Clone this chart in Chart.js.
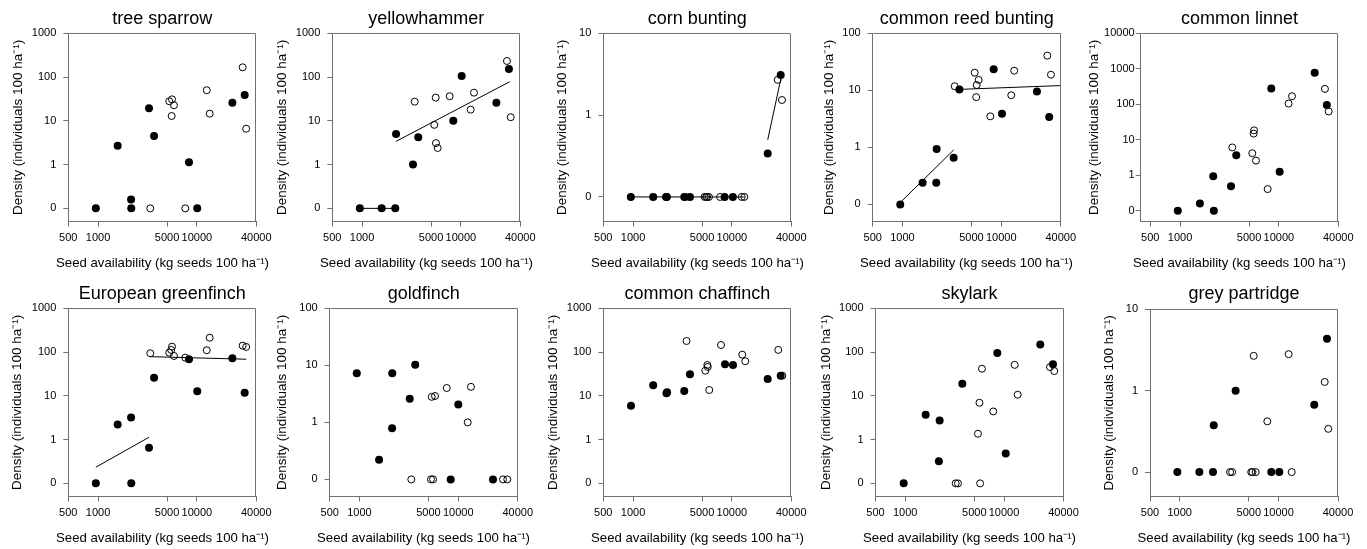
<!DOCTYPE html>
<html>
<head>
<meta charset="utf-8">
<script src="https://cdn.jsdelivr.net/npm/chart.js@4.4.1/dist/chart.umd.min.js"></script>
<style>
  html, body { margin: 0; padding: 0; background: #fff; overflow: hidden; }
  body { width: 1367px; height: 549px; position: relative; }
  canvas { position: absolute; }
</style>
</head>
<body>
<script>
// seed availability (kg seeds 100 ha-1), density (individuals 100 ha-1); 0 is drawn on its own row under 1
const xTicks = [500, 1000, 5000, 10000, 40000]

const treeSparrowFilled = [[950, 0], [1580, 2.7], [2160, 0.16], [2170, 0], [3280, 19.4], [3690, 4.5], [8330, 1.13], [10100, 0], [22900, 26], [30500, 39]]
const treeSparrowOpen = [[3380, 0], [5260, 28], [5560, 12.9], [5610, 31], [5870, 22.7], [7640, 0], [12600, 50], [13500, 14.6], [29100, 167], [31600, 6.6]]

const yellowhammerFilled = [[950, 0], [1580, 0], [2170, 0], [2210, 5.0], [3280, 1.0], [3710, 4.2], [8390, 10.1], [10200, 106], [22900, 26], [30700, 153]]
const yellowhammerOpen = [[3410, 27.4], [5390, 8.1], [5570, 33.9], [5600, 3.1], [5830, 2.4], [7710, 36.5], [12570, 18], [13590, 44], [29300, 233], [32000, 12.1]]
const yellowhammerLines = [[[950, 0], [2170, 0]], [[2210, 3.4], [31200, 78]]]

const cornBuntingFilled = [[950, 0], [1600, 0], [2160, 0], [2200, 0], [3300, 0], [3770, 0], [8450, 0], [10250, 0], [23070, 0.34], [31250, 3.1]]
const cornBuntingOpen = [[3400, 0], [5300, 0], [5500, 0], [5620, 0], [5870, 0], [7600, 0], [12600, 0], [13400, 0], [29100, 2.7], [32200, 1.53]]
const cornBuntingLines = [[[950, 0], [13400, 0]], [[23100, 0.5], [31600, 2.9]]]

const reedBuntingFilled = [[950, 0], [1600, 0.24], [2200, 0.24], [2220, 0.94], [3300, 0.66], [3770, 10.3], [8390, 23.4], [10180, 3.9], [23000, 9.5], [30600, 3.4]]
const reedBuntingOpen = [[3380, 11.8], [5390, 20.4], [5580, 7.6], [5640, 12.4], [5910, 15.2], [7750, 3.5], [12640, 8.2], [13550, 22.1], [29260, 40.6], [31880, 18.8]]
const reedBuntingLines = [[[983, 0.114], [3300, 0.9]], [[3830, 10.4], [39300, 12.1]]]

const linnetFilled = [[950, 0], [1590, 0.16], [2170, 0.95], [2200, 0], [3280, 0.49], [3710, 3.65], [8390, 279], [10200, 1.26], [23070, 771], [30600, 96]]
const linnetOpen = [[3380, 6.1], [5390, 4.2], [5560, 15], [5620, 18.5], [5870, 2.6], [7710, 0.41], [12570, 105], [13600, 169], [29300, 272], [32000, 63]]

const greenfinchFilled = [[950, 0], [1580, 2.2], [2160, 3.2], [2170, 0], [3280, 0.65], [3690, 26], [8330, 68.6], [10100, 12.7], [22900, 72], [30500, 11.8]]
const greenfinchOpen = [[3380, 94], [5260, 97], [5500, 112], [5610, 133], [5870, 81.5], [7640, 74.5], [12600, 110], [13500, 213], [29100, 140], [31600, 131]]
const greenfinchLines = [[[950, 0.234], [3280, 1.13]], [[3380, 78.5], [31600, 68.6]]]

const goldfinchFilled = [[940, 7.3], [1580, 0.22], [2140, 0.79], [2150, 7.3], [3230, 2.6], [3670, 10.2], [8390, 0], [10020, 2.05], [22500, 0]]
const goldfinchOpen = [[3350, 0], [5300, 0], [5560, 0], [5390, 2.8], [5820, 2.9], [7640, 4.0], [12470, 1.0], [13460, 4.2], [28380, 0], [31380, 0]]

const chaffinchFilled = [[953, 5.97], [1600, 17.5], [2180, 11.5], [2210, 12], [3300, 12.9], [3770, 31.1], [8530, 52.6], [10280, 50.7], [23070, 24.3], [31250, 28.9]]
const chaffinchOpen = [[3480, 179], [5390, 37.6], [5650, 50.7], [5700, 45.7], [5910, 13.6], [7770, 145], [12760, 87.3], [13680, 61.7], [29520, 112], [32430, 28.9]]

const skylarkFilled = [[964, 0], [1610, 3.7], [2190, 0.32], [2230, 2.74], [3780, 18.9], [8550, 95], [10400, 0.48], [23280, 149], [31300, 53]]
const skylarkOpen = [[3240, 0], [3420, 0], [5450, 1.36], [5640, 6.95], [5730, 0], [5980, 41.6], [7780, 4.4], [12820, 51], [13740, 10.6], [29200, 45.5], [32280, 36.8]]

const partridgeFilled = [[946, 0], [1580, 0], [2170, 0], [2210, 0.376], [3680, 1.0], [8450, 0], [10180, 0], [23000, 0.67], [30950, 4.36]]
const partridgeOpen = [[3230, 0], [3390, 0], [5290, 0], [5450, 0], [5610, 2.68], [5870, 0], [7700, 0.42], [12660, 2.81], [13590, 0], [29330, 1.28], [31880, 0.34]]

const FONT = '"Liberation Sans", Arial, sans-serif'
const FRAME = '#707070'
Chart.defaults.font.family = FONT

// layout: absolute plot-left, y-title centre, panel row
const panels = [
  { title: 'tree sparrow', filled: treeSparrowFilled, open: treeSparrowOpen, lines: [], yMax: 3, row: 0, left: 68.3, titleX: 18.3 },
  { title: 'yellowhammer', filled: yellowhammerFilled, open: yellowhammerOpen, lines: yellowhammerLines, yMax: 3, row: 0, left: 332.3, titleX: 282 },
  { title: 'corn bunting', filled: cornBuntingFilled, open: cornBuntingOpen, lines: cornBuntingLines, yMax: 1, row: 0, left: 603.3, titleX: 562.3 },
  { title: 'common reed bunting', filled: reedBuntingFilled, open: reedBuntingOpen, lines: reedBuntingLines, yMax: 2, row: 0, left: 872.7, titleX: 829.3 },
  { title: 'common linnet', filled: linnetFilled, open: linnetOpen, lines: [], yMax: 4, row: 0, left: 1140.7, width: 197.6, xMin: 400, titleX: 1094.2, tickPad: 1 },
  { title: 'European greenfinch', filled: greenfinchFilled, open: greenfinchOpen, lines: greenfinchLines, yMax: 3, row: 1, left: 68.3, titleX: 17.3 },
  { title: 'goldfinch', filled: goldfinchFilled, open: goldfinchOpen, lines: [], yMax: 2, row: 1, left: 329.7, titleX: 282.2 },
  { title: 'common chaffinch', filled: chaffinchFilled, open: chaffinchOpen, lines: [], yMax: 3, row: 1, left: 603.3, titleX: 553.5 },
  { title: 'skylark', filled: skylarkFilled, open: skylarkOpen, lines: [], yMax: 3, row: 1, left: 875.5, titleX: 826 },
  { title: 'grey partridge', filled: partridgeFilled, open: partridgeOpen, lines: [], yMax: 1, row: 1, left: 1150, titleX: 1108.8, top: 34.3 }
]

const toY = v => (v === 0 ? -1 : Math.log10(v))
const toPoints = arr => arr.map(([x, y]) => ({ x, y: toY(y) }))

const framePlugin = {
  id: 'frame',
  afterDraw (chart) {
    const { ctx, chartArea: a } = chart
    const l = Math.round(a.left) + 0.5
    const t = Math.round(a.top) + 0.5
    const r = Math.round(a.right) - 0.5
    const b = Math.round(a.bottom) - 0.5
    ctx.save()
    ctx.strokeStyle = FRAME
    ctx.lineWidth = 1
    ctx.beginPath()
    ctx.moveTo(l, t)
    ctx.lineTo(r, t)
    ctx.lineTo(r, b)
    ctx.stroke()
    ctx.restore()
  }
}

panels.forEach(p => {
  const H = 275
  const plotW = p.width || 188
  const plotTop = p.top || 33.3
  const plotBottom = 221.5
  const cLeft = Math.floor(p.titleX - 10)
  const cTop = p.row * 275
  // canvas symmetric about the plot centre so the bottom caption centres on the plot
  const W = Math.round(2 * (p.left + plotW / 2 - cLeft))
  const rightGap = W - (p.left + plotW - cLeft)
  const captionSize = 13.2
  const captionPad = 3.8
  const xCaptionH = captionSize * 1.2 + captionPad

  const cv = document.createElement('canvas')
  cv.width = W
  cv.height = H
  cv.style.left = cLeft + 'px'
  cv.style.top = cTop + 'px'
  document.body.appendChild(cv)

  const yTickValues = []
  for (let v = -1; v <= p.yMax; v++) yTickValues.push(v)

  const datasets = [
    {
      data: toPoints(p.filled),
      pointRadius: 4,
      pointBackgroundColor: '#000',
      pointBorderColor: '#000',
      pointBorderWidth: 0
    },
    {
      data: toPoints(p.open),
      pointRadius: 3.5,
      pointBackgroundColor: 'rgba(0,0,0,0)',
      pointBorderColor: '#000',
      pointBorderWidth: 1
    }
  ]
  p.lines.forEach(line => {
    datasets.push({
      data: toPoints(line),
      showLine: true,
      pointRadius: 0,
      borderColor: '#000',
      borderWidth: 1
    })
  })

  new Chart(cv, {
    type: 'scatter',
    data: { datasets },
    options: {
      responsive: false,
      animation: false,
      devicePixelRatio: 1,
      layout: { padding: 0 },
      plugins: {
        legend: { display: false },
        tooltip: { enabled: false },
        title: {
          display: true,
          text: p.title,
          color: '#000',
          fullSize: false,
          font: { size: 18, weight: 'normal', family: FONT, lineHeight: 1.2 },
          padding: { top: 8, bottom: plotTop - 8 - 21.6 }
        },
        // x-axis caption, wider than the plot, so it is laid out full width under the axis
        subtitle: {
          display: true,
          position: 'bottom',
          fullSize: true,
          text: 'Seed availability (kg seeds 100 ha⁻¹)',
          color: '#000',
          font: { size: captionSize, weight: 'normal', family: FONT, lineHeight: 1.2 },
          padding: { top: 0, bottom: captionPad }
        }
      },
      scales: {
        x: {
          type: 'logarithmic',
          min: p.xMin || 500,
          max: 40000,
          afterBuildTicks: s => { s.ticks = xTicks.map(v => ({ value: v })) },
          afterFit: s => { s.height = H - plotBottom - xCaptionH },
          ticks: {
            autoSkip: false,
            maxRotation: 0,
            color: '#000',
            padding: 4.5,
            font: { size: 11, family: FONT },
            callback: v => String(v)
          },
          grid: { display: true, drawOnChartArea: false, drawTicks: true, tickLength: 5, color: FRAME },
          border: { display: true, color: FRAME, width: 1 }
        },
        y: {
          type: 'linear',
          min: -1.3,
          max: p.yMax,
          afterBuildTicks: s => { s.ticks = yTickValues.map(v => ({ value: v })) },
          afterFit: s => { s.width = p.left - cLeft },
          ticks: {
            color: '#000',
            padding: p.tickPad !== undefined ? p.tickPad : 7,
            font: { size: 11, family: FONT },
            callback: v => (v === -1 ? '0' : String(Math.round(Math.pow(10, v))))
          },
          grid: { display: true, drawOnChartArea: false, drawTicks: true, tickLength: 5, color: FRAME },
          border: { display: true, color: FRAME, width: 1 },
          title: {
            display: true,
            text: 'Density (individuals 100 ha⁻¹)',
            color: '#000',
            font: { size: 13.5, family: FONT, lineHeight: 1.2 },
            padding: { top: (p.titleX - cLeft) - 8.1, bottom: 0 }
          }
        },
        // empty spacer on the right
        yRight: {
          type: 'linear',
          position: 'right',
          display: true,
          afterFit: s => { s.width = rightGap },
          ticks: { display: false },
          grid: { display: false },
          border: { display: false }
        }
      }
    },
    plugins: [framePlugin]
  })
})
</script>
</body>
</html>
